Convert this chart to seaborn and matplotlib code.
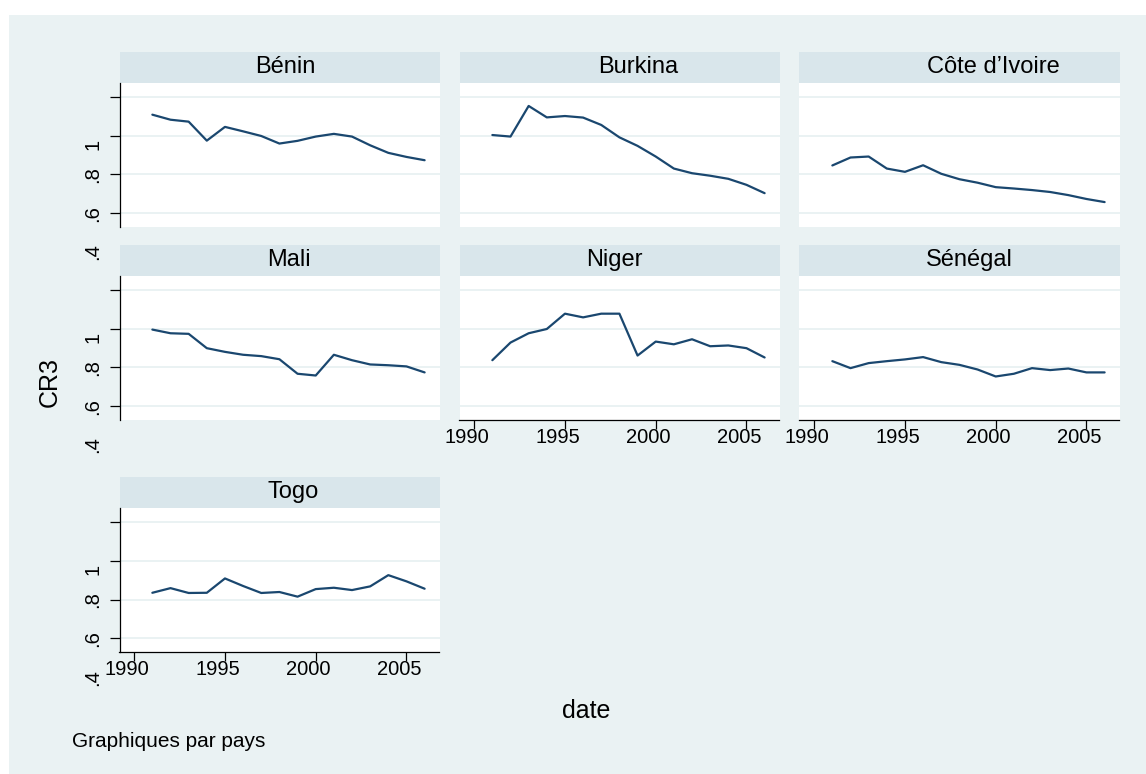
import matplotlib
matplotlib.use("Agg")
import matplotlib.pyplot as plt
from matplotlib.patches import Rectangle
from matplotlib.transforms import ScaledTranslation
import pandas as pd
import seaborn as sns

# ---- data -------------------------------------------------------------
years = list(range(1991, 2007))

benin = [1.108, 1.082, 1.072, 0.974, 1.045, 1.022, 0.998, 0.959,
         0.973, 0.995, 1.009, 0.995, 0.950, 0.911, 0.890, 0.873]
burkina = [1.003, 0.995, 1.153, 1.094, 1.101, 1.093, 1.055, 0.991,
           0.947, 0.892, 0.830, 0.806, 0.793, 0.777, 0.746, 0.703]
cote_ivoire = [0.846, 0.887, 0.892, 0.830, 0.813, 0.847, 0.803, 0.775,
               0.757, 0.734, 0.727, 0.719, 0.709, 0.693, 0.673, 0.657]
mali = [0.995, 0.976, 0.973, 0.899, 0.880, 0.865, 0.858, 0.842,
        0.767, 0.758, 0.865, 0.837, 0.815, 0.811, 0.805, 0.774]
niger = [0.837, 0.928, 0.976, 0.998, 1.077, 1.058, 1.077, 1.077,
         0.861, 0.933, 0.919, 0.945, 0.909, 0.913, 0.899, 0.851]
senegal = [0.832, 0.796, 0.822, 0.832, 0.841, 0.853, 0.827, 0.813,
           0.789, 0.753, 0.767, 0.796, 0.786, 0.794, 0.774, 0.774]
togo = [0.835, 0.859, 0.834, 0.835, 0.909, 0.870, 0.834, 0.839,
        0.815, 0.854, 0.861, 0.849, 0.868, 0.926, 0.894, 0.856]

countries = ["Bénin", "Burkina", "Côte d’Ivoire", "Mali", "Niger", "Sénégal", "Togo"]
values = [benin, burkina, cote_ivoire, mali, niger, senegal, togo]

yticks = [0.6, 0.8, 1.0, 1.2]
ytick_labels = [".6", ".8", "1", ""]
extra_ylabel = (0.4, ".4")
xticks = [1990, 1995, 2000, 2005]

df = pd.DataFrame(
    [(c, y, v) for c, vals in zip(countries, values) for y, v in zip(years, vals)],
    columns=["pays", "date", "CR3"],
)

# ---- style ------------------------------------------------------------
BG = "#EAF2F3"
STRIP = "#D9E6EB"
LINE = "#1A476F"

sns.set_theme(style="white")
plt.rcParams["font.family"] = ["Liberation Sans", "DejaVu Sans"]
plt.rcParams.update({
    "text.color": "black",
    "axes.labelcolor": "black",
    "xtick.color": "black",
    "ytick.color": "black",
})

W, H = 1146, 774
fig = plt.figure(figsize=(W / 100, H / 100), dpi=100, facecolor="white")
fig.add_artist(Rectangle((9 / W, 0), 1, 1 - 15 / H, transform=fig.transFigure,
                         facecolor=BG, edgecolor="none", zorder=-10))

col_left = [119.5, 459.5, 799.5]
row_top = [82.5, 275.5, 507.7]
pw, ph, strip_h = 320, 144, 31
# horizontal shift (px) of each strip title from the strip centre
title_dx = {"Bénin": 6, "Burkina": 19, "Côte d’Ivoire": 34, "Mali": 9,
            "Niger": -5, "Sénégal": 10, "Togo": 14}
x_axis_panels = {"Niger", "Sénégal", "Togo"}

tick_len, ypad = 7.2, 5

for i, country in enumerate(countries):
    r, c = divmod(i, 3)
    left, top = col_left[c], row_top[r]
    ax = fig.add_axes([left / W, 1 - (top + ph) / H, pw / W, ph / H])
    ax.set_facecolor("white")

    sub = df[df["pays"] == country]
    sns.lineplot(data=sub, x="date", y="CR3", ax=ax, color=LINE, lw=1.6,
                 legend=False, zorder=3)
    ax.set_xlabel("")
    ax.set_ylabel("")
    ax.set_xlim(1989.19, 2006.82)
    ax.set_ylim(0.531, 1.274)

    ax.grid(axis="y", color=BG, lw=1.4)
    ax.grid(axis="x", visible=False)
    ax.set_axisbelow(True)

    for s in ax.spines.values():
        s.set_visible(False)

    # strip header
    ax.add_patch(Rectangle((0, 1), 1, strip_h / ph, transform=ax.transAxes,
                           clip_on=False, facecolor=STRIP, edgecolor="none"))
    ax.text(0.5 + title_dx[country] / pw, 1 + (strip_h / 2) / ph, country,
            transform=ax.transAxes, ha="center", va="center", fontsize=17,
            color="black")

    # y axis
    if c == 0:
        ax.spines["left"].set_visible(True)
        ax.spines["left"].set_color("black")
        ax.spines["left"].set_linewidth(0.9)
        ax.set_yticks(yticks, ytick_labels, rotation=90, va="center",
                      fontsize=14.5, color="black")
        ax.tick_params(axis="y", length=tick_len, width=0.9, color="black",
                       pad=ypad, left=True)
        ax.annotate(extra_ylabel[1], xy=(0, extra_ylabel[0]),
                    xycoords=ax.get_yaxis_transform(),
                    xytext=(-(tick_len + ypad), 0), textcoords="offset points",
                    rotation=90, ha="right", va="center", fontsize=14.5,
                    color="black", annotation_clip=False)
        for lbl in ax.get_yticklabels():
            if lbl.get_text() == "1":
                lbl.set_transform(lbl.get_transform() +
                                  ScaledTranslation(0, -9 / 100, fig.dpi_scale_trans))
    else:
        ax.set_yticks(yticks)
        ax.tick_params(axis="y", length=0, labelleft=False)

    # x axis
    if country in x_axis_panels:
        ax.spines["bottom"].set_visible(True)
        ax.spines["bottom"].set_color("black")
        ax.spines["bottom"].set_linewidth(0.9)
        ax.set_xticks(xticks, [str(t) for t in xticks], fontsize=14.5,
                      color="black")
        ax.tick_params(axis="x", length=6.2, width=0.9, color="black", pad=0,
                       bottom=True)
        for lbl in ax.get_xticklabels():
            lbl.set_transform(lbl.get_transform() +
                              ScaledTranslation(-7 / 100, 0, fig.dpi_scale_trans))
    else:
        ax.set_xticks(xticks)
        ax.tick_params(axis="x", length=0, labelbottom=False)

# shared titles and note
fig.text(49.5 / W, 1 - 381.7 / H, "CR3", rotation=90, ha="center", va="center",
         fontsize=18, color="black")
fig.text(585.8 / W, 1 - 718 / H, "date", ha="center", va="baseline",
         fontsize=18, color="black")
fig.text(72 / W, 1 - 747 / H, "Graphiques par pays", ha="left", va="baseline",
         fontsize=15, color="black")

fig.savefig("out.png", dpi=100, facecolor="white")
